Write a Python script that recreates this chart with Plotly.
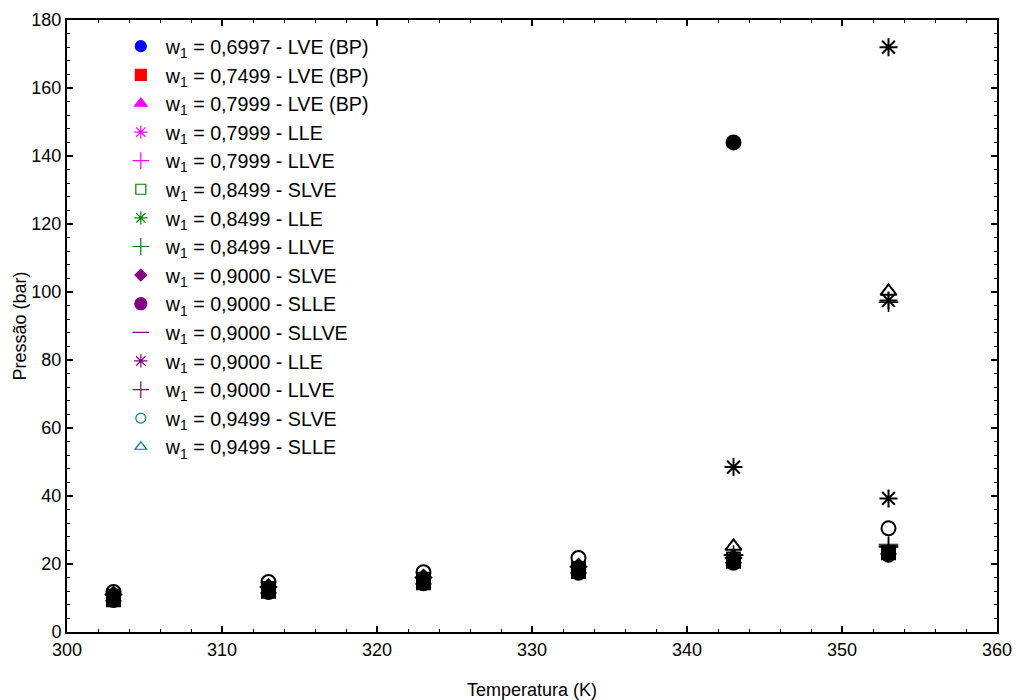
import plotly.graph_objects as go

labels = [
    "w<sub>1</sub> = 0,6997 - LVE (BP)",
    "w<sub>1</sub> = 0,7499 - LVE (BP)",
    "w<sub>1</sub> = 0,7999 - LVE (BP)",
    "w<sub>1</sub> = 0,7999 - LLE",
    "w<sub>1</sub> = 0,7999 - LLVE",
    "w<sub>1</sub> = 0,8499 - SLVE",
    "w<sub>1</sub> = 0,8499 - LLE",
    "w<sub>1</sub> = 0,8499 - LLVE",
    "w<sub>1</sub> = 0,9000 - SLVE",
    "w<sub>1</sub> = 0,9000 - SLLE",
    "w<sub>1</sub> = 0,9000 - SLLVE",
    "w<sub>1</sub> = 0,9000 - LLE",
    "w<sub>1</sub> = 0,9000 - LLVE",
    "w<sub>1</sub> = 0,9499 - SLVE",
    "w<sub>1</sub> = 0,9499 - SLLE",
]

# temperatures (K) per series
x_vals = [
    [303, 313, 323, 333, 343, 353],
    [303, 313, 323, 333, 343, 353],
    [303, 313, 323, 333, 343, 353],
    [353],
    [353],
    [303, 313, 323, 333, 343],
    [353],
    [343, 353],
    [303, 313, 323, 333, 343],
    [343],
    [343, 353],
    [343, 353],
    [353],
    [303, 313, 323, 333, 353],
    [343, 353],
]
# pressures (bar) per series
p_vals = [
    [9.3, 11.6, 14.2, 17.3, 20.2, 22.6],
    [9.5, 12.0, 14.5, 17.8, 20.8, 23.3],
    [10.0, 12.3, 15.0, 18.2, 21.2, 23.8],
    [172.0],
    [25.0],
    [10.5, 12.8, 15.5, 18.6, 21.5],
    [97.5],
    [22.6, 25.3],
    [11.0, 13.2, 16.0, 19.2, 21.8],
    [144.0],
    [22.8, 25.8],
    [48.5, 39.3],
    [97.0],
    [11.8, 14.7, 17.6, 21.8, 30.5],
    [25.2, 100.2],
]

colors = ["#0000FF", "#FF0000", "#FF00FF", "#FF00FF", "#FF00FF",
          "#008000", "#008000", "#008000",
          "#800080", "#800080", "#800080", "#800080", "#800080",
          "#008080", "#008080"]
symbols = ["circle", "square", "triangle-up", "asterisk-open", "cross-thin-open",
           "square-open", "asterisk-open", "cross-thin-open",
           "diamond", "circle", "line-ew-open", "asterisk-open", "cross-thin-open",
           "circle-open", "triangle-up-open"]
leg_sizes = [11, 11, 11, 11, 12, 10, 11, 12, 9, 12, 12, 11, 12, 10, 10]
plot_sizes = [13, 13, 13, 15, 14, 13, 15, 14, 12, 14, 14, 15, 14, 14, 14]
plot_lw = [2, 2, 2, 2, 1.5, 2, 2, 1.5, 2, 2, 1, 2, 1.5, 2, 2]

fig = go.Figure()

for i in range(len(labels)):
    # data drawn in black
    fig.add_trace(go.Scatter(
        x=x_vals[i], y=p_vals[i], mode="markers", showlegend=False,
        marker=dict(symbol=symbols[i], size=plot_sizes[i], color="black",
                    line=dict(color="black", width=plot_lw[i])),
        hoverinfo="x+y",
    ))

for i in range(len(labels)):
    # coloured legend entries
    fig.add_trace(go.Scatter(
        x=[None], y=[None], mode="markers", name=labels[i],
        legendgroup="g%d" % i,
        marker=dict(symbol=symbols[i], size=leg_sizes[i], color=colors[i],
                    line=dict(color=colors[i], width=1.2)),
    ))

axis_common = dict(
    showgrid=False, zeroline=False, showline=True, linecolor="black",
    linewidth=2, mirror="allticks", ticks="inside", ticklen=6, tickwidth=1.5,
    tickcolor="black", tickfont=dict(size=18, color="black"), automargin=False,
)

fig.update_xaxes(range=[300, 360], dtick=10,
                 minor=dict(dtick=2, ticks="inside", ticklen=3, tickcolor="black", tickwidth=1),
                 title=dict(text="Temperatura (K)", font=dict(size=18, color="black"), standoff=25),
                 **axis_common)
fig.update_yaxes(range=[0, 180], dtick=20,
                 minor=dict(dtick=4, ticks="inside", ticklen=3, tickcolor="black", tickwidth=1),
                 title=dict(text="Pressão (bar)", font=dict(size=18, color="black"), standoff=0),
                 **axis_common)

fig.update_layout(
    width=1016, height=700,
    margin=dict(l=67, r=19, t=20, b=68),
    plot_bgcolor="white", paper_bgcolor="white",
    font=dict(family="Liberation Sans, Arial, sans-serif", color="black", size=18),
    legend=dict(x=0.0525, y=0.9887, xanchor="left", yanchor="top",
                bgcolor="rgba(0,0,0,0)", font=dict(size=19.7),
                tracegroupgap=0, itemwidth=40),
)

fig.write_html(
    "out.html",
    config={"displayModeBar": False},
    post_script="document.body.style.margin='0';document.body.style.overflow='hidden';",
)
